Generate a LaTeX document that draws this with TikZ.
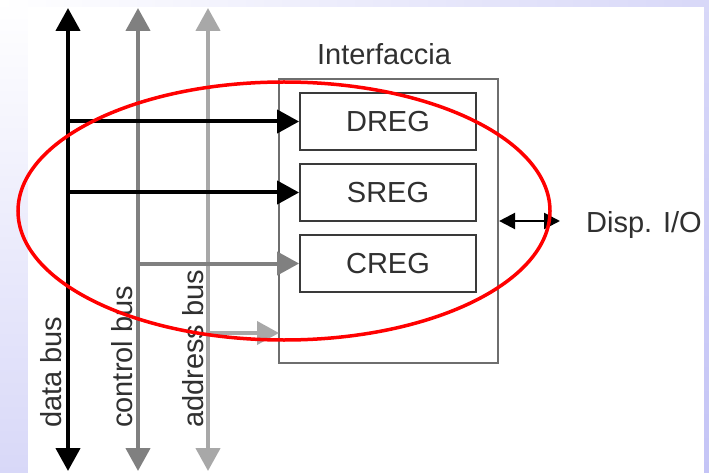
\documentclass[tikz,border=0pt]{standalone}
\usepackage{fontspec}
\setmainfont{Liberation Sans}
\usetikzlibrary{arrows.meta}
\definecolor{ctrlgray}{HTML}{808080}
\definecolor{addrgray}{HTML}{A8A8A8}
\definecolor{boxgray}{HTML}{6E6E6E}
\definecolor{reggray}{HTML}{3A3A3A}
\definecolor{txtgray}{HTML}{303030}
\definecolor{lav}{HTML}{D8D8F8}
\definecolor{lavdark}{HTML}{C4C4F6}
\tikzset{
  lbl/.style={font=\fontsize{29}{34}\selectfont, text=txtgray, inner sep=0pt},
  busline/.style={line width=4.4pt, {Triangle[length=23pt,width=24pt]}-{Triangle[length=23pt,width=24pt]}},
  feed/.style={line width=4pt, -{Triangle[length=22pt,width=23pt]}},
  regbox/.style={draw=reggray, line width=1.8pt, minimum width=176pt, minimum height=57pt, lbl},
}
\begin{document}
\begin{tikzpicture}[x=1pt,y=-1pt]
\useasboundingbox (0,0) rectangle (709,473);
% background
\shade[top color=white, bottom color=lav] (0,0) rectangle (28,473);
\shade[left color=white, right color=lav] (0,0) rectangle (709,7);
\shade[top color=lav, bottom color=lavdark] (704,0) rectangle (709,473);
\fill[white] (28,7) rectangle (704,473);
% bus endpoints
\coordinate (dtop) at (68,8);   \coordinate (dbot) at (68,471);
\coordinate (ctop) at (138,8);  \coordinate (cbot) at (138,471);
\coordinate (atop) at (208,8);  \coordinate (abot) at (208,471);
% interface box and registers
\node[draw=boxgray, line width=2.2pt, minimum width=219pt, minimum height=284pt, inner sep=0pt] (iface) at (388.5,221) {};
\node[lbl, anchor=base] (ifl) at (384,65) {Interfaccia};
\node[regbox] (dreg) at (388,121.5) {DREG};
\node[regbox] (sreg) at (388,192.5) {SREG};
\node[regbox] (creg) at (388,263.5) {CREG};
\coordinate (aend) at (279,333);
\coordinate (io) at (560,221);
% buses
\draw[busline, draw=black, fill=black] (dtop) -- (dbot);
\draw[busline, draw=ctrlgray, fill=ctrlgray] (ctop) -- (cbot);
\draw[busline, draw=addrgray, fill=addrgray] (atop) -- (abot);
% feeds
\draw[feed, black] (dtop |- dreg.west) -- (dreg.west);
\draw[feed, black] (dtop |- sreg.west) -- (sreg.west);
\draw[feed, ctrlgray] (ctop |- creg.west) -- (creg.west);
\draw[feed, addrgray] (atop |- aend) -- (aend);
% bus labels
\node[lbl, rotate=90, anchor=base west] (dl) at (61,428) {data bus};
\node[lbl, rotate=90, anchor=base west] (cl) at (132,428) {control bus};
\node[lbl, rotate=90, anchor=base west] (al) at (203,428) {address bus};
% I/O
\draw[line width=2.4pt, {Triangle[length=16pt,width=16pt]}-{Triangle[length=16pt,width=16pt]}] (iface.east) -- (io);
\node[lbl, anchor=base west] (iol) at (586,233) {Disp. I/O};
% red ellipse
\draw[red, line width=3.5pt] (284,211) ellipse [x radius=266, y radius=129];
\end{tikzpicture}
\end{document}
